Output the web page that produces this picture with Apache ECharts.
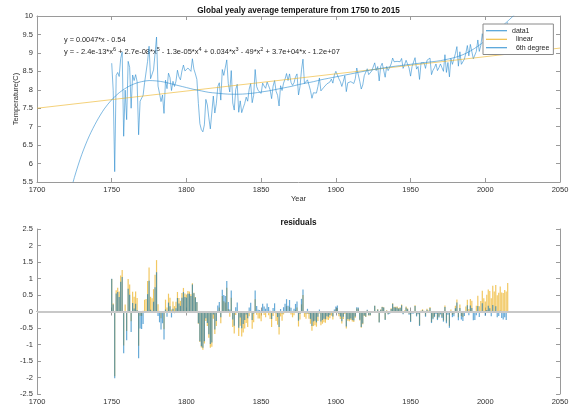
<!DOCTYPE html>
<html><head><meta charset="utf-8">
<script src="https://cdn.jsdelivr.net/npm/echarts@6/dist/echarts.min.js"></script>
<style>html,body{margin:0;padding:0;background:#fff}#c{width:572px;height:410px}</style>
</head><body><div id="c"></div>
<script>
// ---- data ----
const firstYear = 1750;
const temps = [
 8.72,7.98,5.78,8.39,8.47,8.36,8.85,9.02,6.74,7.99,
 7.19,8.77,8.61,7.50,8.40,8.25,8.41,8.22,6.78,7.69,
 7.69,7.85,8.19,8.22,8.77,9.18,8.30,8.26,8.54,8.98,
 9.43,8.10,7.90,7.68,7.86,7.36,8.26,8.03,8.45,8.33,
 7.98,8.23,8.09,8.23,8.53,8.35,8.27,8.51,8.67,8.51,
 8.48,8.59,8.58,8.50,8.84,8.56,8.43,8.28,7.63,7.08,
 6.92,6.86,7.05,7.74,7.59,7.24,6.94,6.98,7.83,7.37,
 7.62,8.09,8.19,7.72,8.55,8.39,8.36,8.81,8.17,7.94,
 8.52,7.64,7.45,8.01,8.15,7.39,7.70,7.38,7.51,7.63,
 7.80,7.69,8.02,8.17,7.65,7.85,8.55,8.09,7.98,7.98,
 7.90,8.18,8.10,8.04,8.21,8.11,8.00,7.76,8.10,8.25,
 7.96,7.85,7.56,8.11,7.98,8.18,8.29,8.44,8.25,8.43,
 8.20,8.12,8.19,8.35,8.43,7.86,8.08,8.54,8.83,8.17,
 8.12,8.27,8.13,7.98,7.77,7.92,7.95,7.91,8.09,8.32,
 7.97,8.02,8.07,8.06,8.16,8.15,8.21,8.29,8.18,8.40,
 8.50,8.54,8.30,8.22,8.09,8.23,8.38,7.95,8.19,8.18,
 8.22,8.18,8.17,8.30,8.59,8.59,8.23,8.02,8.13,8.38,
 8.36,8.57,8.41,8.42,8.51,8.53,8.73,8.52,8.63,8.24,
 8.63,8.72,8.71,8.34,8.63,8.52,8.55,8.70,8.86,8.76,
 8.76,8.77,8.73,8.76,8.85,8.58,8.68,8.80,8.75,8.59,
 8.37,8.63,8.64,8.87,8.56,8.63,8.28,8.73,8.77,8.73,
 8.58,8.80,8.75,8.86,8.41,8.53,8.60,8.70,8.52,8.60,
 8.70,8.60,8.50,8.95,8.47,8.74,8.35,8.85,8.69,8.73,
 8.98,9.17,8.64,9.03,8.69,8.66,8.83,8.99,9.20,8.92,
 9.23,9.18,8.84,8.87,9.04,9.35,9.04,9.20,9.52,9.29,
 9.20,9.41,9.57,9.53,9.32,9.70,9.53,9.73,9.43,9.51,
 9.70,9.52,9.51,9.61,9.57,9.83
];
// linear fit line (endpoints)
const linearYears = [1700, 2050];
const linearValues = [7.50, 9.13];
// 6th degree fit curve
const polyYears = [1720,1725,1730,1735,1740,1745,1750,1755,1760,1765,1770,1775,1780,1785,1790,1795,1800,1805,1810,1815,1820,1825,1830,1835,1840,1845,1850,1855,1860,1865,1870,1875,1880,1885,1890,1895,1900,1910,1920,1930,1940,1950,1960,1970,1980,1985,1990,1995,2000,2005,2010,2015,2020];
const polyValues = [4.85,5.62,6.25,6.75,7.15,7.48,7.73,7.92,8.06,8.16,8.22,8.25,8.24,8.21,8.16,8.11,8.06,8.01,7.97,7.93,7.91,7.89,7.88,7.88,7.89,7.91,7.94,7.97,8.01,8.05,8.09,8.14,8.18,8.22,8.27,8.31,8.35,8.43,8.51,8.58,8.64,8.69,8.74,8.79,8.88,8.95,9.05,9.18,9.33,9.50,9.68,9.86,10.05];
const topTitle = 'Global yealy average temperature from 1750 to 2015';
const bottomTitle = 'residuals';
const legendNames = ['data1', '  linear', '  6th degree'];

// ---- derived ----
const years = temps.map((_, i) => firstYear + i);
function curveAt(xs, ys, x) {
  for (let i = 0; i < xs.length - 1; i++) {
    if (x >= xs[i] && x <= xs[i + 1]) {
      const t = (x - xs[i]) / (xs[i + 1] - xs[i]);
      return ys[i] + t * (ys[i + 1] - ys[i]);
    }
  }
  return ys[ys.length - 1];
}
const resLinear = years.map((y, i) => [y, +(temps[i] - curveAt(linearYears, linearValues, y)).toFixed(3)]);
const resPoly = years.map((y, i) => [y, +(temps[i] - curveAt(polyYears, polyValues, y)).toFixed(3)]);

const FONT = '"Liberation Sans", Arial, Helvetica, sans-serif';
const AX = '#9a9a9a', TXT = '#303030';
const BLUE = '#2a8ccf', YEL = '#EDB120';

function xAx(grid, pos, labels, name) {
  return {
    type: 'value', gridIndex: grid, position: pos, min: 1700, max: 2050, interval: 50,
    axisLine: { show: true, lineStyle: { color: AX, width: 1 } },
    axisTick: { show: true, inside: true, length: 4, lineStyle: { color: AX } },
    axisLabel: { show: labels, color: TXT, fontSize: 7.5, fontFamily: FONT, margin: 4, formatter: v => String(v) },
    splitLine: { show: false },
    name: name || '', nameLocation: 'middle', nameGap: 13, nameMoveOverlap: false,
    nameTextStyle: { color: TXT, fontSize: 7.5, fontFamily: FONT }
  };
}
function yAx(grid, pos, labels, min, max, name) {
  return {
    type: 'value', gridIndex: grid, position: pos, min: min, max: max, interval: 0.5,
    axisLine: { show: true, lineStyle: { color: AX, width: 1 } },
    axisTick: { show: true, inside: true, length: 4, lineStyle: { color: AX } },
    axisLabel: { show: labels, color: TXT, fontSize: 7.5, fontFamily: FONT, margin: 4 },
    splitLine: { show: false },
    name: name || '', nameLocation: 'middle', nameGap: 17, nameRotate: 90, nameMoveOverlap: false,
    nameTextStyle: { color: TXT, fontSize: 7.5, fontFamily: FONT }
  };
}

const supStyle = { fontSize: 5.5, fontFamily: FONT, fill: '#262626', lineHeight: 6, verticalAlign: 'top' };
const baseStyle = { fontSize: 7.5, fontFamily: FONT, fill: '#262626', lineHeight: 12 };

const chart = echarts.init(document.getElementById('c'), null, { renderer: 'canvas' });
chart.setOption({
  animation: false,
  backgroundColor: '#fff',
  grid: [
    { left: 37, right: 12, top: 16, height: 166, containLabel: false, outerBoundsMode: 'none' },
    { left: 37, right: 12, top: 229, height: 165, containLabel: false, outerBoundsMode: 'none' }
  ],
  xAxis: [
    xAx(0, 'bottom', true, 'Year'), xAx(0, 'top', false),
    xAx(1, 'bottom', true), xAx(1, 'top', false)
  ],
  yAxis: [
    yAx(0, 'left', true, 5.5, 10, 'Temperature(C)'), yAx(0, 'right', false, 5.5, 10),
    yAx(1, 'left', true, -2.5, 2.5), yAx(1, 'right', false, -2.5, 2.5)
  ],
  legend: {
    data: legendNames, orient: 'vertical', left: 483, top: 24,
    icon: 'rect', itemWidth: 21, itemHeight: 1, itemGap: 1,
    padding: [3, 4, 3, 3], borderColor: '#8a8a8a', borderWidth: 1, backgroundColor: '#fff',
    textStyle: { fontSize: 7, fontFamily: FONT, color: '#262626', lineHeight: 7.5 },
    selectedMode: false
  },
  graphic: [
    { type: 'text', x: 298.5, y: 11, style: { text: topTitle, font: 'bold 8.2px ' + FONT, fill: '#111', textAlign: 'center', textVerticalAlign: 'middle', align: 'center', verticalAlign: 'middle' } },
    { type: 'text', x: 298.5, y: 223, style: { text: bottomTitle, font: 'bold 8.2px ' + FONT, fill: '#111', textAlign: 'center', textVerticalAlign: 'middle', align: 'center', verticalAlign: 'middle' } },
    { type: 'text', x: 64, y: 40, style: { text: 'y = 0.0047*x - 0.54', font: '7.3px ' + FONT, fill: '#262626', textVerticalAlign: 'middle', verticalAlign: 'middle' } },
    { type: 'text', x: 64, y: 52, style: {
      text: '{a|y = - 2.4e-13*x}{s|6}{a| + 2.7e-08*x}{s|5}{a| - 1.3e-05*x}{s|4}{a| + 0.034*x}{s|3}{a| - 49*x}{s|2}{a| + 3.7e+04*x - 1.2e+07}',
      textVerticalAlign: 'middle', verticalAlign: 'middle',
      rich: { a: baseStyle, s: supStyle }
    } }
  ],
  series: [
    { name: 'data1', type: 'line', xAxisIndex: 0, yAxisIndex: 0, data: years.map((y, i) => [y, temps[i]]),
      symbol: 'none', color: BLUE, lineStyle: { color: BLUE, width: 0.6 }, clip: true },
    { name: '  linear', type: 'line', xAxisIndex: 0, yAxisIndex: 0, data: linearYears.map((y, i) => [y, linearValues[i]]),
      symbol: 'none', color: YEL, lineStyle: { color: YEL, width: 0.6 }, clip: true },
    { name: '  6th degree', type: 'line', xAxisIndex: 0, yAxisIndex: 0, data: polyYears.map((y, i) => [y, polyValues[i]]),
      symbol: 'none', color: BLUE, lineStyle: { color: BLUE, width: 0.6 }, smooth: 0.3, clip: true },
    { name: 'resLinear', type: 'bar', xAxisIndex: 2, yAxisIndex: 2, data: resLinear,
      barWidth: 1.2, barGap: '-100%', itemStyle: { color: YEL, opacity: 0.7 } },
    { name: 'resPoly', type: 'bar', xAxisIndex: 2, yAxisIndex: 2, data: resPoly,
      barWidth: 1.2, barGap: '-100%', itemStyle: { color: '#0072BD', opacity: 0.6 },
      markLine: { silent: true, symbol: 'none', label: { show: false },
        lineStyle: { color: '#c8c8c8', width: 2, type: 'solid' }, data: [{ yAxis: 0 }] } }
  ]
});
</script>
</body></html>
